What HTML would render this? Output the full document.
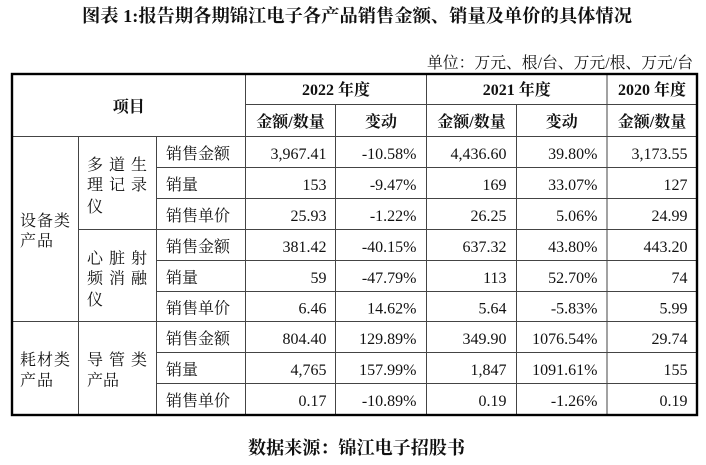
<!DOCTYPE html>
<html>
<head>
<meta charset="utf-8">
<style>
html,body{margin:0;padding:0;background:#fff;}
svg{display:block;}
.t{font-family:"Liberation Serif","Noto Serif CJK SC",serif;font-size:16px;fill:#111;}
.b{font-weight:bold;}
.h{font-family:"Liberation Serif","Noto Serif CJK SC",serif;font-size:16px;fill:#111;font-weight:bold;}
</style>
</head>
<body>
<svg width="706" height="465" viewBox="0 0 706 465" xmlns="http://www.w3.org/2000/svg">
<rect width="706" height="465" fill="#fff"/>
<!-- title -->
<text x="82" y="22" class="t b" style="font-size:18px" textLength="550" lengthAdjust="spacingAndGlyphs">图表 1:报告期各期锦江电子各产品销售金额、销量及单价的具体情况</text>
<!-- unit -->
<text x="427" y="68" class="t" textLength="266" lengthAdjust="spacingAndGlyphs">单位：万元、根/台、万元/根、万元/台</text>

<!-- inner lines -->
<g stroke="#444" stroke-width="1" fill="none">
<line x1="245.5" y1="104.5" x2="697" y2="104.5"/>
<line x1="12" y1="136.5" x2="697" y2="136.5"/>
<line x1="156.5" y1="167.5" x2="697" y2="167.5"/>
<line x1="156.5" y1="198.5" x2="697" y2="198.5"/>
<line x1="78.5" y1="229.5" x2="697" y2="229.5"/>
<line x1="156.5" y1="260.5" x2="697" y2="260.5"/>
<line x1="156.5" y1="291.5" x2="697" y2="291.5"/>
<line x1="12" y1="321.5" x2="697" y2="321.5"/>
<line x1="156.5" y1="352.5" x2="697" y2="352.5"/>
<line x1="156.5" y1="383.5" x2="697" y2="383.5"/>

<line x1="78.5" y1="136.5" x2="78.5" y2="415"/>
<line x1="156.5" y1="136.5" x2="156.5" y2="415"/>
<line x1="245.5" y1="74" x2="245.5" y2="415"/>
<line x1="335.5" y1="104.5" x2="335.5" y2="415"/>
<line x1="426.5" y1="74" x2="426.5" y2="415"/>
<line x1="516.5" y1="104.5" x2="516.5" y2="415"/>
<line x1="607" y1="74" x2="607" y2="415"/>
</g>
<!-- outer border -->
<rect x="12" y="74" width="685" height="341" fill="none" stroke="#000" stroke-width="2.4"/>

<!-- header -->
<text x="128.7" y="112" class="h" text-anchor="middle">项目</text>
<text x="336" y="95" class="h" text-anchor="middle">2022 年度</text>
<text x="516.7" y="95" class="h" text-anchor="middle">2021 年度</text>
<text x="652" y="95" class="h" text-anchor="middle">2020 年度</text>
<g class="t" text-anchor="middle" style="font-weight:bold">
<text x="290.5" y="127">金额/数量</text>
<text x="381" y="127">变动</text>
<text x="471.5" y="127">金额/数量</text>
<text x="561.7" y="127">变动</text>
<text x="652" y="127">金额/数量</text>
</g>

<!-- left category columns -->
<g class="t">
<text x="20" y="226" letter-spacing="1">设备类</text>
<text x="20" y="246" letter-spacing="1">产品</text>
<text x="20" y="365" letter-spacing="1">耗材类</text>
<text x="20" y="385.5" letter-spacing="1">产品</text>

<text x="87" y="170">多</text><text x="109" y="170">道</text><text x="131" y="170">生</text>
<text x="87" y="190">理</text><text x="109" y="190">记</text><text x="131" y="190">录</text>
<text x="87" y="212">仪</text>

<text x="87" y="263.5">心</text><text x="109" y="263.5">脏</text><text x="131" y="263.5">射</text>
<text x="87" y="283.5">频</text><text x="109" y="283.5">消</text><text x="131" y="283.5">融</text>
<text x="87" y="305">仪</text>

<text x="87" y="365">导</text><text x="109" y="365">管</text><text x="131" y="365">类</text>
<text x="87" y="385.5">产品</text>
</g>

<!-- row labels -->
<g class="t">
<text x="166" y="159">销售金额</text>
<text x="166" y="190">销量</text>
<text x="166" y="221">销售单价</text>
<text x="166" y="252">销售金额</text>
<text x="166" y="283">销量</text>
<text x="166" y="313.5">销售单价</text>
<text x="166" y="344">销售金额</text>
<text x="166" y="375">销量</text>
<text x="166" y="406">销售单价</text>
</g>

<!-- data -->
<g class="t" text-anchor="end">
<text x="326.5" y="159">3,967.41</text><text x="416.5" y="159">-10.58%</text><text x="506.5" y="159">4,436.60</text><text x="597.5" y="159">39.80%</text><text x="687.5" y="159">3,173.55</text>
<text x="326.5" y="190">153</text><text x="416.5" y="190">-9.47%</text><text x="506.5" y="190">169</text><text x="597.5" y="190">33.07%</text><text x="687.5" y="190">127</text>
<text x="326.5" y="221">25.93</text><text x="416.5" y="221">-1.22%</text><text x="506.5" y="221">26.25</text><text x="597.5" y="221">5.06%</text><text x="687.5" y="221">24.99</text>
<text x="326.5" y="252">381.42</text><text x="416.5" y="252">-40.15%</text><text x="506.5" y="252">637.32</text><text x="597.5" y="252">43.80%</text><text x="687.5" y="252">443.20</text>
<text x="326.5" y="283">59</text><text x="416.5" y="283">-47.79%</text><text x="506.5" y="283">113</text><text x="597.5" y="283">52.70%</text><text x="687.5" y="283">74</text>
<text x="326.5" y="313.5">6.46</text><text x="416.5" y="313.5">14.62%</text><text x="506.5" y="313.5">5.64</text><text x="597.5" y="313.5">-5.83%</text><text x="687.5" y="313.5">5.99</text>
<text x="326.5" y="344">804.40</text><text x="416.5" y="344">129.89%</text><text x="506.5" y="344">349.90</text><text x="597.5" y="344">1076.54%</text><text x="687.5" y="344">29.74</text>
<text x="326.5" y="375">4,765</text><text x="416.5" y="375">157.99%</text><text x="506.5" y="375">1,847</text><text x="597.5" y="375">1091.61%</text><text x="687.5" y="375">155</text>
<text x="326.5" y="406">0.17</text><text x="416.5" y="406">-10.89%</text><text x="506.5" y="406">0.19</text><text x="597.5" y="406">-1.26%</text><text x="687.5" y="406">0.19</text>
</g>

<!-- source -->
<text x="248" y="454" class="t b" style="font-size:18px" textLength="217" lengthAdjust="spacingAndGlyphs">数据来源：锦江电子招股书</text>
</svg>
</body>
</html>
